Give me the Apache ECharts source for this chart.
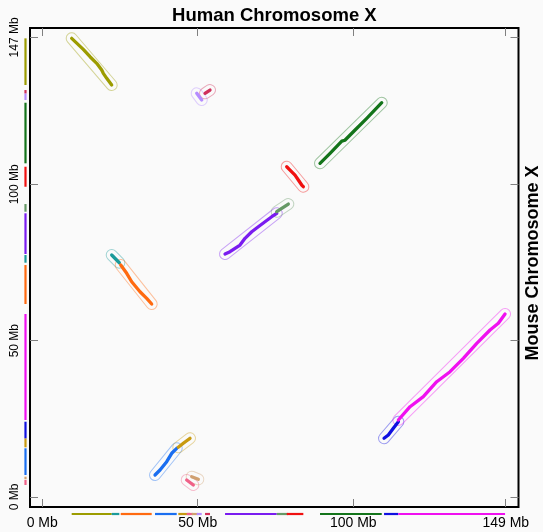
<!DOCTYPE html>
<html><head><meta charset="utf-8">
<script src="https://cdn.jsdelivr.net/npm/echarts@6/dist/echarts.min.js"></script>
<style>html,body{margin:0;padding:0;background:#fafafa;}#c{width:543px;height:532px;}</style>
</head><body><div id="c"></div>
<script>
// Tick values (Mb)
const xTicks = [0, 50, 100, 149];
const yTicks = [0, 50, 100, 147];
// Synteny segments: [human Mb, mouse Mb]
const segOlive = [[9.48,146.69],[13.21,143.17],[15.37,140.81],[17.52,138.70],[19.13,136.55],[19.64,135.50],[20.74,133.90],[22.34,131.76]];
const segTeal = [[22.34,77.39],[24.79,74.93]];
const segOrange = [[25.24,74.19],[27.16,71.54],[28.77,68.85],[31.44,65.65],[33.59,63.54],[35.20,61.72]];
const segBlue = [[36.26,7.04],[37.87,8.63],[40.02,11.29],[41.63,13.98],[43.24,15.57]];
const segGold = [[43.75,15.89],[45.36,17.17],[46.45,18.00],[47.51,18.77]];
const segPink = [[46.45,5.44],[48.57,3.84]];
const segTan = [[48.06,6.49],[50.18,5.66]];
const segLavender = [[49.67,129.10],[51.28,126.96]];
const segCrimson = [[52.34,129.10],[53.94,130.16]];
const segPurple = [[58.77,77.71],[60.37,78.45],[61.98,79.53],[63.59,80.59],[65.19,82.73],[67.35,84.84],[69.47,86.44],[71.62,88.04],[73.78,89.64],[75.39,90.73]];
const segGrayGreen = [[75.39,91.24],[79.11,93.70]];
const segRed = [[78.60,105.63],[79.66,104.57],[81.27,102.97],[82.33,101.38],[83.42,99.78],[83.94,99.23]];
const segGreen = [[89.30,106.72],[92.52,109.91],[96.30,113.80],[96.80,114.40],[97.30,114.10],[100.01,116.82],[104.32,121.11],[109.14,126.10]];
const segDarkBlue = [[109.88,18.77],[111.26,19.83],[112.87,21.97],[114.48,24.08]];
const segMagenta = [[114.48,24.62],[118.24,28.88],[122.51,32.08],[126.82,36.87],[131.10,40.07],[135.37,44.36],[139.68,49.15],[143.95,53.41],[146.62,55.55],[148.78,58.52]];

const segments = [
  {pts: segOlive, color: '#9c9c00'},
  {pts: segTeal, color: '#1a9a9a'},
  {pts: segOrange, color: '#ff6a10'},
  {pts: segBlue, color: '#1a6ef0'},
  {pts: segGold, color: '#c89a10'},
  {pts: segPink, color: '#f06088'},
  {pts: segTan, color: '#d0a070'},
  {pts: segLavender, color: '#b58cff'},
  {pts: segCrimson, color: '#d0305a'},
  {pts: segPurple, color: '#7a1cf0'},
  {pts: segGrayGreen, color: '#669966'},
  {pts: segRed, color: '#f01010'},
  {pts: segGreen, color: '#13741a'},
  {pts: segDarkBlue, color: '#1010e0'},
  {pts: segMagenta, color: '#f010f0'}
];

const FONT = 'Liberation Sans, Arial, Helvetica, sans-serif';
const X_MIN = -3.92, X_MAX = 153.1, Y_MIN = -3.2, Y_MAX = 150;

function hexA(hex, a) {
  const n = parseInt(hex.slice(1), 16);
  return 'rgba(' + ((n >> 16) & 255) + ',' + ((n >> 8) & 255) + ',' + (n & 255) + ',' + a + ')';
}

const haloData = segments.map((s, i) => {
  const a = s.pts[0], b = s.pts[s.pts.length - 1];
  return [a[0], a[1], b[0], b[1], i];
});
const barData = segments.map((s, i) => {
  const xs = s.pts.map(p => p[0]), ys = s.pts.map(p => p[1]);
  return [Math.min(...xs), Math.max(...xs), Math.min(...ys), Math.max(...ys), i];
});

const tickStyle = {show: true, inside: true, length: 8, lineStyle: {color: '#808080', width: 1}};
const noLine = {show: false, onZero: false};

const series = [];
series.push({
  type: 'custom', xAxisIndex: 0, yAxisIndex: 0, data: haloData, silent: true, z: 2, clip: false,
  renderItem: function (params, api) {
    const p1 = api.coord([api.value(0), api.value(1)]);
    const p2 = api.coord([api.value(2), api.value(3)]);
    const dx = p2[0] - p1[0], dy = p2[1] - p1[1];
    const L = Math.sqrt(dx * dx + dy * dy), R = 5.5;
    const ang = Math.atan2(dy, dx);
    return {
      type: 'rect',
      x: (p1[0] + p2[0]) / 2, y: (p1[1] + p2[1]) / 2,
      rotation: -ang,
      shape: {x: -L / 2 - R, y: -R, width: L + 2 * R, height: 2 * R, r: R},
      style: {fill: 'none', stroke: hexA(segments[api.value(4)].color, 0.4), lineWidth: 1}
    };
  }
});
segments.forEach(s => {
  series.push({
    type: 'line', xAxisIndex: 0, yAxisIndex: 0, data: s.pts, showSymbol: false, silent: true, z: 3,
    lineStyle: {color: s.color, width: 3.3, cap: 'round', join: 'round'}
  });
});
// bottom projection bars
series.push({
  type: 'custom', xAxisIndex: 2, yAxisIndex: 2, data: barData, silent: true, clip: false,
  encode: {x: [0, 1]},
  renderItem: function (params, api) {
    const p1 = api.coord([api.value(0), 0.5]);
    const p2 = api.coord([api.value(1), 0.5]);
    return {type: 'line', shape: {x1: p1[0], y1: p1[1], x2: p2[0], y2: p2[1]},
      style: {stroke: segments[api.value(4)].color, lineWidth: 2.2}};
  }
});
// left projection bars
series.push({
  type: 'custom', xAxisIndex: 3, yAxisIndex: 3, data: barData, silent: true, clip: false,
  encode: {y: [2, 3]},
  renderItem: function (params, api) {
    const p1 = api.coord([0.5, api.value(2)]);
    const p2 = api.coord([0.5, api.value(3)]);
    return {type: 'line', shape: {x1: p1[0], y1: p1[1], x2: p2[0], y2: p2[1]},
      style: {stroke: segments[api.value(4)].color, lineWidth: 2.2}};
  }
});

const option = {
  backgroundColor: '#fafafa',
  animation: false,
  textStyle: {fontFamily: FONT},
  grid: [
    {left: 30, right: 24.5, top: 28, bottom: 25, show: true, borderColor: '#000', borderWidth: 2, backgroundColor: 'transparent'},
    {left: 30, right: 24.5, top: 513, height: 2},
    {left: 24.5, width: 2, top: 28, bottom: 25}
  ],
  xAxis: [
    {gridIndex: 0, type: 'value', min: X_MIN, max: X_MAX, position: 'bottom',
      axisLine: noLine, splitLine: {show: false},
      axisTick: Object.assign({customValues: xTicks}, tickStyle),
      axisLabel: {customValues: xTicks, formatter: v => v + ' Mb', color: '#000', fontSize: 14, margin: 9, fontFamily: FONT}},
    {gridIndex: 0, type: 'value', min: X_MIN, max: X_MAX, position: 'top',
      axisLine: noLine, splitLine: {show: false},
      axisTick: Object.assign({customValues: xTicks}, tickStyle), axisLabel: {show: false}},
    {gridIndex: 1, type: 'value', min: X_MIN, max: X_MAX, show: false},
    {gridIndex: 2, type: 'value', min: 0, max: 1, show: false}
  ],
  yAxis: [
    {gridIndex: 0, type: 'value', min: Y_MIN, max: Y_MAX, position: 'left',
      axisLine: noLine, splitLine: {show: false},
      axisTick: Object.assign({customValues: yTicks}, tickStyle),
      axisLabel: {customValues: yTicks, formatter: v => v + ' Mb', color: '#000', fontSize: 12, rotate: 90, margin: 9, fontFamily: FONT}},
    {gridIndex: 0, type: 'value', min: Y_MIN, max: Y_MAX, position: 'right',
      axisLine: noLine, splitLine: {show: false},
      axisTick: Object.assign({customValues: yTicks}, tickStyle), axisLabel: {show: false}},
    {gridIndex: 1, type: 'value', min: 0, max: 1, show: false},
    {gridIndex: 2, type: 'value', min: Y_MIN, max: Y_MAX, show: false}
  ],
  graphic: [
    {type: 'text', x: 274.4, y: 16, style: {text: 'Human Chromosome X', font: 'bold 18.5px ' + FONT, fill: '#000', align: 'center', verticalAlign: 'middle'}},
    {type: 'text', x: 533, y: 263, rotation: Math.PI / 2, style: {text: 'Mouse Chromosome X', font: 'bold 18px ' + FONT, fill: '#000', align: 'center', verticalAlign: 'middle'}}
  ],
  series: series
};
const chart = echarts.init(document.getElementById('c'), null, {renderer: 'canvas'});
chart.setOption(option);
</script></body></html>
